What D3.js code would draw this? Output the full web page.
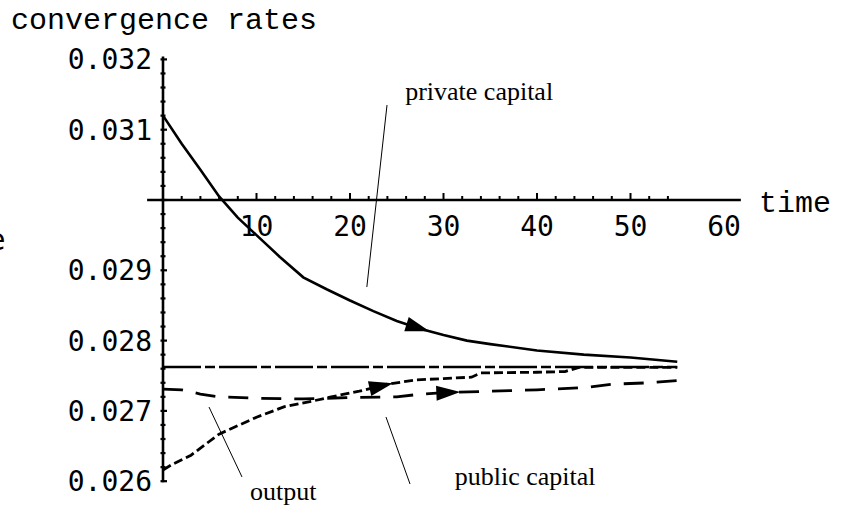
<!DOCTYPE html>
<html>
<head>
<meta charset="utf-8">
<script src="https://cdn.jsdelivr.net/npm/d3@7"></script>
<style>
  html, body { margin: 0; padding: 0; background: #fff; }
  svg { display: block; }
</style>
</head>
<body>
<svg id="chart" width="851" height="521"></svg>
<script>
// ---- data ----
const seriesNames = ["private capital", "output", "public capital", "steady state"];

const privateT = [0, 2, 4, 6, 8, 10, 12.5, 15, 17.5, 20, 22.5, 25, 27.5, 30, 32.5, 35, 40, 45, 50, 55];
const privateV = [0.03120, 0.03080, 0.03043, 0.03005, 0.02975, 0.02950, 0.02919, 0.02890, 0.02873, 0.02857,
                  0.02842, 0.02828, 0.02817, 0.02808, 0.02800, 0.02795, 0.02786, 0.02780, 0.02776, 0.02770];

const outputT = [0, 1, 3, 6, 10, 13, 16, 18, 21, 24, 27, 30, 33, 34, 40, 43, 44.5, 55];
const outputV = [0.02616, 0.02624, 0.02637, 0.02667, 0.02691, 0.02706, 0.02714, 0.02720, 0.02728, 0.02738,
                 0.02744, 0.02746, 0.02748, 0.02754, 0.02755, 0.02756, 0.02762, 0.02762];

const publicT = [0, 2, 4, 6, 10, 15, 20, 25, 27, 30, 35, 40, 45, 48, 52, 55];
const publicV = [0.02731, 0.02730, 0.02724, 0.02720, 0.02718, 0.02717, 0.02719, 0.02720, 0.02723, 0.02726,
                 0.02728, 0.02730, 0.02733, 0.02738, 0.02740, 0.02743];

const steadyT = [0, 55];
const steadyV = [0.027625, 0.027625];

const xTickValues = [10, 20, 30, 40, 50, 60];
const yTickValues = [0.026, 0.027, 0.028, 0.029, 0.031, 0.032];

// ---- layout ----
const svg = d3.select("#chart");
const x = d3.scaleLinear().domain([0, 60]).range([163, 724]);
const y = d3.scaleLinear().domain([0.026, 0.032]).range([481.2, 59.4]);
const x0 = x(0), yAxisY = y(0.030);

const monoNum = "'DejaVu Sans Mono', monospace";
const monoSerif = "'Liberation Mono', 'Courier New', monospace";
const serif = "'Liberation Serif', 'Times New Roman', serif";

// cut-off glyph at the left edge (as in the reference)
svg.append("text").attr("x", -13).attr("y", 250)
  .attr("font-family", "'DejaVu Sans', sans-serif").attr("font-size", 30).text("e");

// title
svg.append("text").attr("x", 11).attr("y", 29)
  .attr("font-family", monoSerif).attr("font-size", 30).text("convergence rates");

// ---- axes ----
const g = svg.append("g");
g.append("line").attr("x1", x0).attr("x2", x0).attr("y1", y(0.032) - 3).attr("y2", y(0.026) + 1)
  .attr("stroke", "#000").attr("stroke-width", 2.6);
g.append("line").attr("x1", x(-1.7)).attr("x2", x(61.8)).attr("y1", yAxisY).attr("y2", yAxisY)
  .attr("stroke", "#000").attr("stroke-width", 2.6);

const yMinor = d3.range(0, 31).map(i => 0.026 + i * 0.0002);
const isMajorY = d => Math.abs(Math.round(d * 1000) - d * 1000) < 1e-6;
g.selectAll(".ytick").data(yMinor).join("line")
  .attr("x1", x0 - 2.5).attr("x2", d => isMajorY(d) ? x0 + 4 : x0 + 2.5)
  .attr("y1", d => y(d)).attr("y2", d => y(d))
  .attr("stroke", "#000").attr("stroke-width", 2.2);

const xMinor = d3.range(1, 28).map(i => i * 2);
g.selectAll(".xtick").data(xMinor).join("line")
  .attr("x1", d => x(d)).attr("x2", d => x(d))
  .attr("y1", yAxisY).attr("y2", d => d % 10 === 0 ? yAxisY - 7 : yAxisY - 4)
  .attr("stroke", "#000").attr("stroke-width", 2);

g.selectAll(".ylab").data(yTickValues).join("text")
  .attr("x", 152).attr("y", d => y(d) + 10)
  .attr("text-anchor", "end").attr("font-family", monoNum).attr("font-size", 28)
  .text(d => d3.format(".3f")(d));

g.selectAll(".xlab").data(xTickValues).join("text")
  .attr("x", d => x(d)).attr("y", yAxisY + 36)
  .attr("text-anchor", "middle").attr("font-family", monoNum).attr("font-size", 28)
  .text(d => d);

svg.append("text").attr("x", 759).attr("y", 212)
  .attr("font-family", monoSerif).attr("font-size", 30).text("time");

// ---- series ----
const line = d3.line().x(d => x(d[0])).y(d => y(d[1]));
const zip = (ts, vs) => ts.map((t, i) => [t, vs[i]]);

const series = [
  { pts: zip(steadyT, steadyV), dash: "38,4,10,4", w: 2.6 },
  { pts: zip(publicT, publicV), dash: "20,13", w: 2.8, arrow: 31.8 },
  { pts: zip(outputT, outputV), dash: "9,4", w: 2.8, arrow: 24.6 },
  { pts: zip(privateT, privateV), dash: null, w: 2.6, arrow: 28.5 }
];

function valueAt(pts, t) {
  for (let i = 1; i < pts.length; i++) {
    if (t <= pts[i][0]) {
      const a = pts[i - 1], b = pts[i];
      const f = (t - a[0]) / (b[0] - a[0]);
      return a[1] + f * (b[1] - a[1]);
    }
  }
  return pts[pts.length - 1][1];
}

series.forEach(s => {
  svg.append("path").attr("d", line(s.pts)).attr("fill", "none")
    .attr("stroke", "#000").attr("stroke-width", s.w)
    .attr("stroke-dasharray", s.dash);
  if (s.arrow !== undefined) {
    const tx = x(s.arrow), ty = y(valueAt(s.pts, s.arrow));
    const bt = s.arrow - 2.5;
    const bx = x(bt), by = y(valueAt(s.pts, bt));
    const ang = Math.atan2(ty - by, tx - bx);
    const L = 24, W = 7.5;
    const cx = tx - L * Math.cos(ang), cy = ty - L * Math.sin(ang);
    const px = -Math.sin(ang) * W, py = Math.cos(ang) * W;
    svg.append("path")
      .attr("d", `M${tx},${ty}L${cx + px},${cy + py}L${cx - px},${cy - py}Z`)
      .attr("fill", "#000");
  }
});

// ---- annotations (leader lines & labels, in data coordinates) ----
const notes = [
  { text: seriesNames[0], lx: 25.9, ly: 0.031422, a: [23.96, 0.031351], b: [21.8, 0.028762] },
  { text: seriesNames[1], lx: 9.3, ly: 0.025737, a: [4.92, 0.027055], b: [8.45, 0.026060] },
  { text: seriesNames[2], lx: 31.2, ly: 0.025950, a: [23.85, 0.026913], b: [26.42, 0.025960] }
];
notes.forEach(n => {
  svg.append("line").attr("x1", x(n.a[0])).attr("y1", y(n.a[1]))
    .attr("x2", x(n.b[0])).attr("y2", y(n.b[1]))
    .attr("stroke", "#000").attr("stroke-width", 1);
  svg.append("text").attr("x", x(n.lx)).attr("y", y(n.ly))
    .attr("font-family", serif).attr("font-size", 26).text(n.text);
});
</script>
</body>
</html>
